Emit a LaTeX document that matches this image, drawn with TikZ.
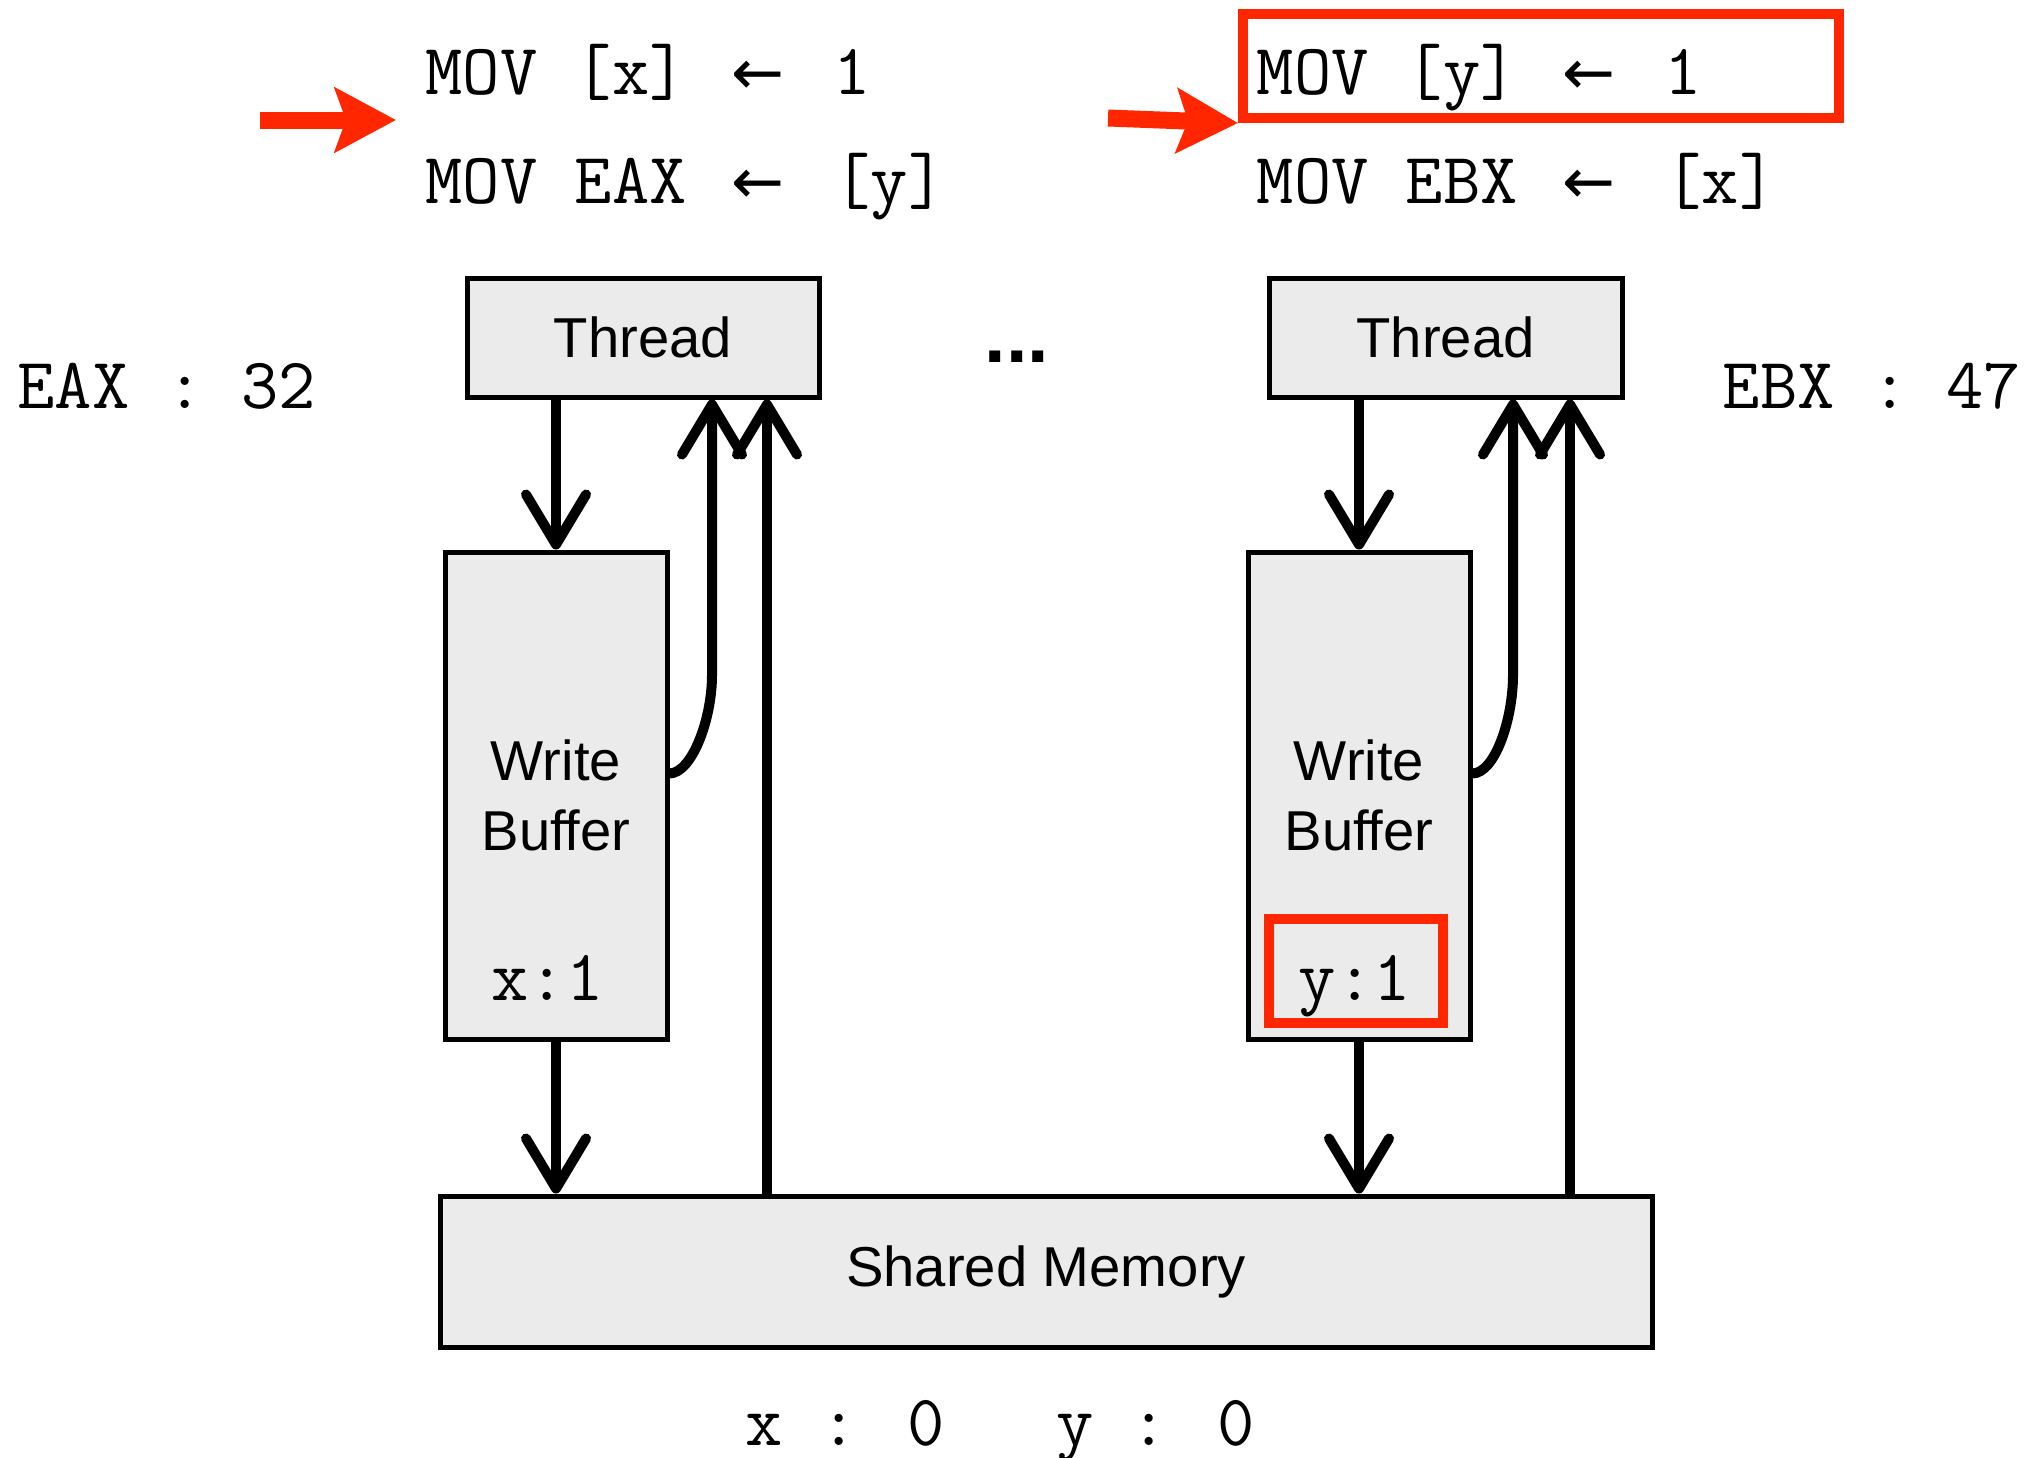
\documentclass[tikz,border=0pt]{standalone}
\usepackage{fontspec}
\setmainfont{Liberation Sans}
\newfontfamily\arrowfont{DejaVu Sans}
\usetikzlibrary{arrows.meta, positioning}
\definecolor{hired}{HTML}{FF2600}
\definecolor{boxgray}{HTML}{EBEBEB}
\newcommand{\asgn}{\hspace{0.076cm}{\arrowfont\fontsize{18}{22}\selectfont ←}\hspace{0.49cm}}

\begin{document}
\begin{tikzpicture}[
  box/.style={draw, line width=0.05cm, fill=boxgray, inner sep=0pt, align=center, font=\fontsize{16}{20}\selectfont},
  code/.style={inner sep=0pt, anchor=base west, font=\ttfamily\fontsize{20.6}{24}\selectfont},
  flow/.style={line width=0.1cm, -{Straight Barb[length=0.5cm, width=0.6cm, round]}},
  hlbox/.style={draw=hired, line width=0.1cm, inner sep=0pt},
  pointer/.style={hired, line width=0.17cm, -{Stealth[length=0.61cm, width=0.64cm, inset=0.11cm]}}]
  \useasboundingbox (0,0) rectangle (20.36,-14.57);

  % Programs
  \node[code] (c1a) at (4.25,-0.94) {MOV [x] \asgn 1};
  \node[code] (c2a) at (4.25,-2.03) {MOV EAX \asgn [y]};
  \node[code] (c1b) at (12.56,-0.94) {MOV [y] \asgn 1};
  \node[code] (c2b) at (12.56,-2.03) {MOV EBX \asgn [x]};
  \node[hlbox, minimum width=5.96cm, minimum height=1.04cm] (hlT) at (15.41,-0.66) {};

  % Program counters
  \coordinate (pL) at (2.60,-1.20);
  \coordinate (pLend) at (3.96,-1.20);
  \draw[pointer] (pL) -- (pLend);
  \coordinate (pR) at (11.08,-1.18);
  \draw[pointer] (pR) -- (hlT.south west);

  % Registers
  \node[code] (eax) at (0.17,-4.08) {EAX : 32};
  \node[code] (ebx) at (17.22,-4.08) {EBX : 47};

  % Threads
  \node[box, minimum width=3.52cm, minimum height=1.19cm] (thL) at (6.43,-3.375) {Thread};
  \node[box, minimum width=3.53cm, minimum height=1.19cm] (thR) at (14.455,-3.375) {Thread};
  \node[anchor=base, inner sep=0pt, font=\bfseries\fontsize{22}{26}\selectfont] (dots) at (10.17,-3.62) {...};

  % Write buffers
  \node[box, minimum width=2.22cm, minimum height=4.87cm] (wbL) at (5.56,-7.955) {Write\\Buffer};
  \node[box, minimum width=2.22cm, minimum height=4.87cm] (wbR) at (13.59,-7.955) {Write\\Buffer};
  \node[code] (entL) at (4.91,-10.00) {x:1};
  \node[code] (entR) at (12.98,-10.00) {y:1};
  \node[hlbox, minimum width=1.74cm, minimum height=1.04cm] (hlR) at (13.56,-9.71) {};

  % Shared memory
  \node[box, minimum width=12.12cm, minimum height=1.51cm] (mem) at (10.46,-12.715) {Shared Memory};
  \node[code] (vals) at (7.45,-14.45) {x : 0\ \ \ y : 0};

  % Left thread
  \draw[flow] (wbL.north |- thL.south) -- (wbL.north);
  \draw[flow] (wbL.south) -- (wbL.south |- mem.north);
  \coordinate (upL) at (7.67,0);
  \draw[flow] (upL |- mem.north) -- (upL |- thL.south);
  \coordinate (bendL) at (7.12,-6.75);
  \draw[flow] ([yshift=0.22cm]wbL.east) .. controls (6.92,-7.73) and (7.12,-7.19) .. (bendL) -- (bendL |- thL.south);

  % Right thread
  \draw[flow] (wbR.north |- thR.south) -- (wbR.north);
  \draw[flow] (wbR.south) -- (wbR.south |- mem.north);
  \coordinate (upR) at (15.70,0);
  \draw[flow] (upR |- mem.north) -- (upR |- thR.south);
  \coordinate (bendR) at (15.13,-6.75);
  \draw[flow] ([yshift=0.22cm]wbR.east) .. controls (14.95,-7.73) and (15.13,-7.19) .. (bendR) -- (bendR |- thR.south);
\end{tikzpicture}
\end{document}
